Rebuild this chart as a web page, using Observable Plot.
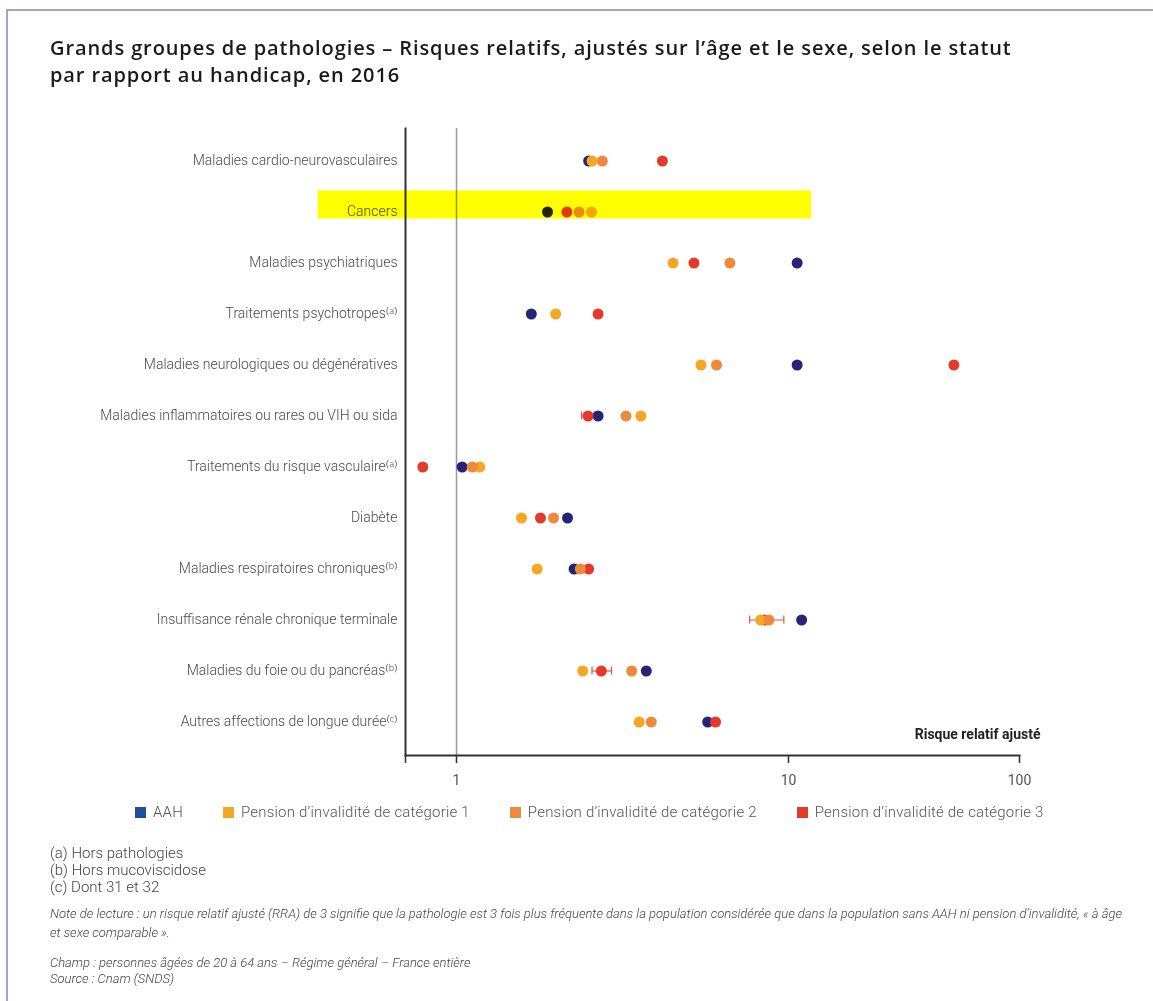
<!DOCTYPE html>
<html>
<head>
<meta charset="utf-8">
<script src="https://cdn.jsdelivr.net/npm/d3@7"></script>
<script src="https://cdn.jsdelivr.net/npm/@observablehq/plot@0.6"></script>
<style>
  html, body { margin: 0; padding: 0; background: #fff; }
  body { width: 1153px; height: 1001px; position: relative; overflow: hidden; font-family: Roboto, "Noto Sans", sans-serif; }
  .frame-line { position: absolute; z-index: 10; pointer-events: none; left: 6px; top: 9px; right: -10px; bottom: -10px; border-left: 2px solid #a3a3dc; border-top: 2px solid #a3a3dc; }
  #title { position: absolute; left: 50px; top: 34px; font-family: "Open Sans", sans-serif; font-size: 20px; letter-spacing: 0.9px; font-weight: 600; color: #1a1a1a; }
  #title div { line-height: 27px; height: 27px; }
  #chart { position: absolute; left: 0; top: 100px; }
  #legend { position: absolute; top: 803px; left: 135px; display: flex; font-size: 15px; letter-spacing: 0.2px; color: #555; font-weight: 300; }
  #legend .item { display: flex; align-items: center; margin-right: 40px; }
  #legend .sw { width: 11px; height: 11px; margin-right: 7px; }
  #notes { position: absolute; left: 50px; top: 845px; color: #444; }
  #notes .fn { font-size: 15px; line-height: 17px; font-weight: 300; }
  #notes .it { font-size: 13px; font-style: italic; font-weight: 300; max-width: 1080px; }
</style>
</head>
<body>
<div class="frame-line"></div>
<div id="title"><div>Grands groupes de pathologies – Risques relatifs, ajustés sur l’âge et le sexe, selon le statut</div><div>par rapport au handicap, en 2016</div></div>
<div id="chart"></div>
<div id="legend"></div>
<div id="notes">
  <div class="fn">(a) Hors pathologies</div>
  <div class="fn">(b) Hors mucoviscidose</div>
  <div class="fn">(c) Dont 31 et 32</div>
  <div class="it" style="margin-top:8px; line-height:19px;">Note de lecture : un risque relatif ajusté (RRA) de 3 signifie que la pathologie est 3 fois plus fréquente dans la population considérée que dans la population sans AAH ni pension d’invalidité, « à âge et sexe comparable ».</div>
  <div class="it" style="margin-top:13px; line-height:16px;">Champ : personnes âgées de 20 à 64 ans – Régime général – France entière<br>Source : Cnam (SNDS)</div>
</div>
<script>
// ---- Data ----
const categories = [
  "Maladies cardio-neurovasculaires",
  "Cancers",
  "Maladies psychiatriques",
  "Traitements psychotropes⁽ᵃ⁾",
  "Maladies neurologiques ou dégénératives",
  "Maladies inflammatoires ou rares ou VIH ou sida",
  "Traitements du risque vasculaire⁽ᵃ⁾",
  "Diabète",
  "Maladies respiratoires chroniques⁽ᵇ⁾",
  "Insuffisance rénale chronique terminale",
  "Maladies du foie ou du pancréas⁽ᵇ⁾",
  "Autres affections de longue durée⁽ᶜ⁾"
];
const series = [
  "AAH",
  "Pension d’invalidité de catégorie 1",
  "Pension d’invalidité de catégorie 2",
  "Pension d’invalidité de catégorie 3"
];
const aah  = [2.50, 1.88, 10.9, 1.68, 10.9, 2.67, 1.04, 2.16, 2.26, 11.4, 3.73, 5.71];
const cat1 = [2.56, 2.55, 4.49, 1.99, 5.45, 3.59, 1.175, 1.57, 1.75, 8.24, 2.40, 3.55];
const cat2 = [2.75, 2.34, 6.66, null, 6.07, 3.24, 1.115, 1.96, 2.36, 8.73, 3.37, 3.86];
const cat3 = [4.17, 2.15, 5.19, 2.67, 52.0, 2.49, 0.79, 1.79, 2.50, 8.45, 2.73, 6.03];

// confidence intervals that are visible
const ciCategories = ["Maladies inflammatoires ou rares ou VIH ou sida", "Insuffisance rénale chronique terminale", "Maladies du foie ou du pancréas⁽ᵇ⁾"];
const ciLow  = [2.38, 7.64, 2.56];
const ciHigh = [2.60, 9.68, 2.93];

const xTicks = [0.7, 1, 10, 100];
const highlight = {category: "Cancers", from: 0.38, to: 12.6};

// ---- Styles ----
const dotColors = ["#262479", "#f5a623", "#ef8a3d", "#e43a2b"];
const legendColors = ["#1d4f9c", "#f5a623", "#ef8a3d", "#e43a2b"];

// ---- Build table (draw order: AAH, cat3, cat1, cat2) ----
const values = [aah, cat1, cat2, cat3];
const drawOrder = [0, 3, 1, 2];
const table = [];
for (const j of drawOrder) {
  categories.forEach((c, i) => {
    const v = values[j][i];
    if (v != null) table.push({category: c, series: series[j], value: v});
  });
}
const ci = ciCategories.map((c, i) => ({category: c, lo: ciLow[i], hi: ciHigh[i]}));
const ciEnds = ci.flatMap(d => [{category: d.category, v: d.lo}, {category: d.category, v: d.hi}]);

const chart = Plot.plot({
  width: 1153,
  height: 700,
  marginLeft: 405,
  marginRight: 134,
  marginTop: 28,
  marginBottom: 45,
  style: {fontFamily: "Roboto, 'Noto Sans', sans-serif", fontSize: "14px", color: "#444", background: "white"},
  x: {type: "log", domain: xTicks, range: [405, 456, 788, 1019]},
  y: {type: "band", domain: categories, padding: 0, insetTop: 6.5, insetBottom: 8.5},
  color: {domain: series, range: dotColors},
  marks: [
    Plot.ruleX([1], {stroke: "#9a9a9a", strokeWidth: 1.5}),
    Plot.frame({anchor: "left", stroke: "#333", strokeWidth: 2}),
    Plot.frame({anchor: "bottom", stroke: "#333", strokeWidth: 2}),
    Plot.ruleY(ci, {y: "category", x1: "lo", x2: "hi", stroke: "#e4553a", strokeWidth: 1.2}),
    Plot.tickX(ciEnds, {y: "category", x: "v", stroke: "#e4553a", strokeWidth: 1.2, insetTop: 21.5, insetBottom: 21.5}),
    Plot.dot(table, {x: "value", y: "category", fill: "series", r: 5.5, stroke: null}),
    Plot.axisY({tickSize: 0, tickPadding: 8, fontSize: 14, fill: "#4a4a4a", label: null, fontWeight: 300}),
    Plot.axisX({ticks: xTicks, tickFormat: d => d === 0.7 ? "" : String(d), tickSize: 8, tickPadding: 12, fontSize: 14, fill: "#555", stroke: "#333", strokeWidth: 1.5, label: null}),
    Plot.text(["Risque relatif ajusté"], {frameAnchor: "bottom-right", dx: 21, dy: -17, textAnchor: "end", fontWeight: "bold", fontSize: 14, fill: "#222"}),
    Plot.barX([highlight], {y: "category", x1: "from", x2: "to", fill: "#ffff00", mixBlendMode: "multiply", insetTop: 4.5, insetBottom: 18.5})
  ]
});
document.getElementById("chart").appendChild(chart);

// ---- Legend ----
const legend = document.getElementById("legend");
series.forEach((s, i) => {
  const item = document.createElement("div");
  item.className = "item";
  const sw = document.createElement("span");
  sw.className = "sw";
  sw.style.background = legendColors[i];
  const t = document.createElement("span");
  t.textContent = s;
  item.appendChild(sw);
  item.appendChild(t);
  legend.appendChild(item);
});
</script>
</body>
</html>
